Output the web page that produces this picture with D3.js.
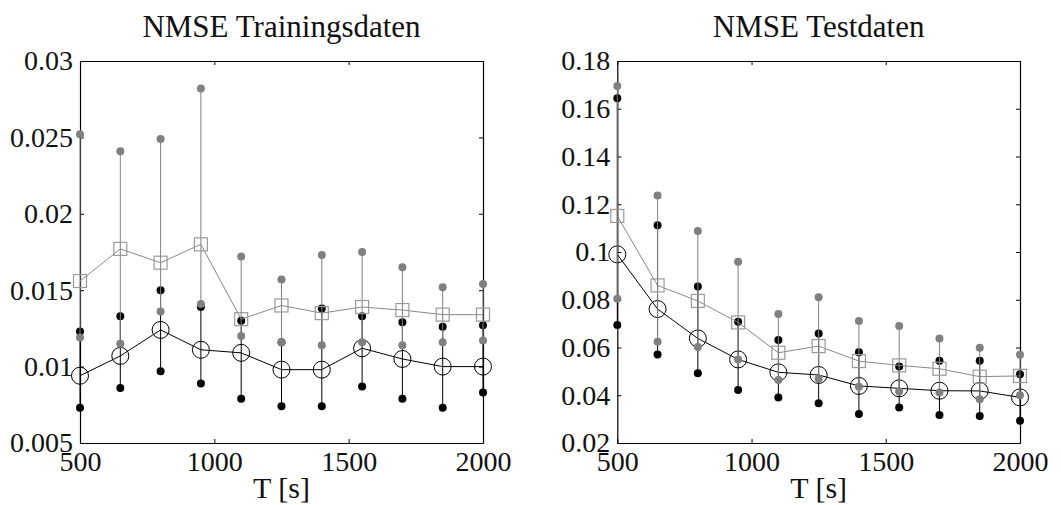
<!DOCTYPE html>
<html>
<head>
<meta charset="utf-8">
<script src="https://cdn.jsdelivr.net/npm/d3@7"></script>
<style>
  body { margin: 0; background: white; }
  svg text { font-family: "Liberation Serif", serif; fill: #111; }
</style>
</head>
<body>
<svg width="1061" height="505"></svg>
<script>
// Data
const T = [500, 650, 800, 950, 1100, 1250, 1400, 1550, 1700, 1850, 2000];

// Trainingsdaten
const trainCircle = [0.0094, 0.0107, 0.0124, 0.0111, 0.0109, 0.0098, 0.0098, 0.0112, 0.0105, 0.0100, 0.0100];
const trainBlackHi = [0.0123, 0.0133, 0.0150, 0.0139, 0.0130, 0.0116, 0.0138, 0.0133, 0.0129, 0.0126, 0.0127];
const trainBlackLo = [0.0073, 0.0086, 0.0097, 0.0089, 0.0079, 0.0074, 0.0074, 0.0087, 0.0079, 0.0073, 0.0083];
const trainSquare = [0.0156, 0.0177, 0.0168, 0.0180, 0.0131, 0.0140, 0.0135, 0.0139, 0.0137, 0.0134, 0.0134];
const trainGrayHi = [0.0252, 0.0241, 0.0249, 0.0282, 0.0172, 0.0157, 0.0173, 0.0175, 0.0165, 0.0152, 0.0154];
const trainGrayLo = [0.0119, 0.0115, 0.0136, 0.0141, 0.0120, 0.0116, 0.0114, 0.0116, 0.0114, 0.0116, 0.0117];

// Testdaten
const testCircle = [0.0990, 0.0761, 0.0638, 0.0550, 0.0496, 0.0485, 0.0439, 0.0429, 0.0419, 0.0418, 0.0391];
const testBlackHi = [0.1644, 0.1112, 0.0855, 0.0708, 0.0631, 0.0659, 0.0580, 0.0520, 0.0545, 0.0545, 0.0488];
const testBlackLo = [0.0694, 0.0571, 0.0492, 0.0422, 0.0391, 0.0366, 0.0321, 0.0349, 0.0317, 0.0313, 0.0293];
const testSquare = [0.1151, 0.0860, 0.0795, 0.0705, 0.0578, 0.0606, 0.0543, 0.0525, 0.0511, 0.0478, 0.0481];
const testGrayHi = [0.1695, 0.1237, 0.1088, 0.0959, 0.0740, 0.0810, 0.0711, 0.0690, 0.0638, 0.0599, 0.0570];
const testGrayLo = [0.0804, 0.0624, 0.0602, 0.0550, 0.0464, 0.0469, 0.0436, 0.0416, 0.0411, 0.0383, 0.0400];

// Axis ticks
const xTicks = [500, 1000, 1500, 2000];
const trainYTicks = [0.005, 0.01, 0.015, 0.02, 0.025, 0.03];
const testYTicks = [0.02, 0.04, 0.06, 0.08, 0.1, 0.12, 0.14, 0.16, 0.18];

const svg = d3.select("svg");

function drawPanel(opts) {
  let g = svg.append("g");
  let x = d3.scaleLinear().domain([500, 2000]).range([opts.left, opts.right]);
  let y = d3.scaleLinear().domain(opts.yDomain).range([443, 61]);

  // box with inward ticks on all sides
  g.append("g").attr("transform", "translate(0,443)")
    .call(d3.axisBottom(x).tickValues(xTicks).tickSizeInner(-4).tickSizeOuter(0).tickPadding(8).tickFormat(d3.format("d")));
  g.append("g").attr("transform", "translate(0,61)")
    .call(d3.axisTop(x).tickValues(xTicks).tickSizeInner(-4).tickSizeOuter(0).tickFormat(""));
  g.append("g").attr("transform", `translate(${opts.left},0)`)
    .call(d3.axisLeft(y).tickValues(opts.yTicks).tickSizeInner(-4).tickSizeOuter(0).tickPadding(7).tickFormat(d => String(d)));
  g.append("g").attr("transform", `translate(${opts.right},0)`)
    .call(d3.axisRight(y).tickValues(opts.yTicks).tickSizeInner(-4).tickSizeOuter(0).tickFormat(""));

  g.selectAll("g").attr("font-family", null).attr("font-size", null);
  g.selectAll(".domain").attr("stroke", "#000").attr("stroke-width", 1.2);
  g.selectAll(".tick line").attr("stroke", "#000");
  g.selectAll(".tick text").style("font-size", "28px").style("fill", "#111");

  // title and x label
  g.append("text").attr("x", (opts.left + opts.right) / 2).attr("y", 37)
    .attr("text-anchor", "middle").style("font-size", "31px").text(opts.title);
  g.append("text").attr("x", (opts.left + opts.right) / 2).attr("y", 498)
    .attr("text-anchor", "middle").style("font-size", "30px").text("T [s]");

  let idx = d3.range(T.length);
  let line = d3.line().x(i => x(T[i]));

  // black series: error bars, dots, line, circles
  g.selectAll(".bbar").data(idx).enter().append("line")
    .attr("x1", i => x(T[i])).attr("x2", i => x(T[i]))
    .attr("y1", i => y(opts.blackHi[i])).attr("y2", i => y(opts.blackLo[i]))
    .attr("stroke", "#000").attr("stroke-width", 1);
  g.selectAll(".bdot").data(idx.flatMap(i => [[i, opts.blackHi[i]], [i, opts.blackLo[i]]])).enter().append("circle")
    .attr("cx", d => x(T[d[0]])).attr("cy", d => y(d[1])).attr("r", 4).attr("fill", "#000");
  g.append("path").datum(idx).attr("d", line.y(i => y(opts.circle[i])))
    .attr("fill", "none").attr("stroke", "#000").attr("stroke-width", 1);
  g.selectAll(".circ").data(idx).enter().append("circle")
    .attr("cx", i => x(T[i])).attr("cy", i => y(opts.circle[i])).attr("r", 8.5)
    .attr("fill", "none").attr("stroke", "#000").attr("stroke-width", 1);

  // gray series: error bars, line, squares, dots
  g.selectAll(".gbar").data(idx).enter().append("line")
    .attr("x1", i => x(T[i])).attr("x2", i => x(T[i]))
    .attr("y1", i => y(opts.grayHi[i])).attr("y2", i => y(opts.grayLo[i]))
    .attr("stroke", "#808080").attr("stroke-width", 1);
  g.append("path").datum(idx).attr("d", line.y(i => y(opts.square[i])))
    .attr("fill", "none").attr("stroke", "#888").attr("stroke-width", 1);
  g.selectAll(".sq").data(idx).enter().append("rect")
    .attr("x", i => x(T[i]) - 6.5).attr("y", i => y(opts.square[i]) - 6.5)
    .attr("width", 13).attr("height", 13)
    .attr("fill", "none").attr("stroke", "#999").attr("stroke-width", 1.2);
  g.selectAll(".gdot").data(idx.flatMap(i => [[i, opts.grayHi[i]], [i, opts.grayLo[i]]])).enter().append("circle")
    .attr("cx", d => x(T[d[0]])).attr("cy", d => y(d[1])).attr("r", 4).attr("fill", "#808080");
}

drawPanel({
  left: 80, right: 483, yDomain: [0.005, 0.03], yTicks: trainYTicks,
  title: "NMSE Trainingsdaten",
  circle: trainCircle, blackHi: trainBlackHi, blackLo: trainBlackLo,
  square: trainSquare, grayHi: trainGrayHi, grayLo: trainGrayLo
});

drawPanel({
  left: 617.3, right: 1020, yDomain: [0.02, 0.18], yTicks: testYTicks,
  title: "NMSE Testdaten",
  circle: testCircle, blackHi: testBlackHi, blackLo: testBlackLo,
  square: testSquare, grayHi: testGrayHi, grayLo: testGrayLo
});
</script>
</body>
</html>
